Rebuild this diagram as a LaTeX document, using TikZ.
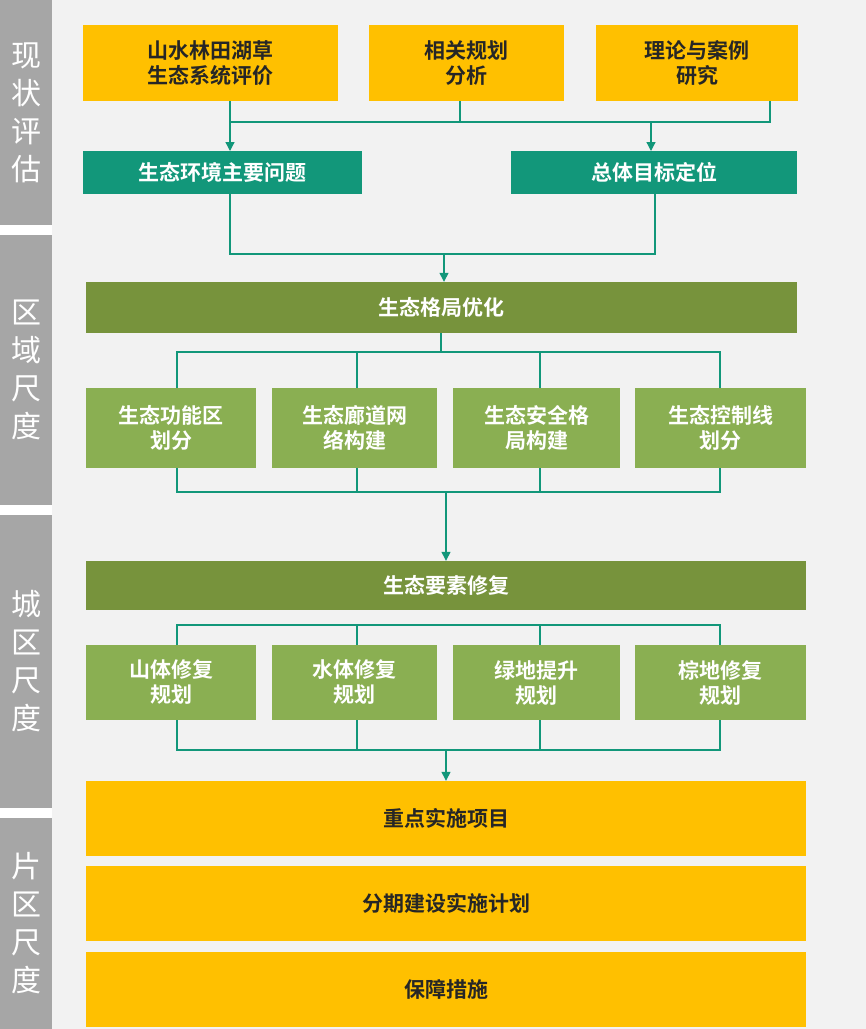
\documentclass[tikz,border=0pt]{standalone}
\usepackage{fontspec}
\setmainfont{Noto Sans CJK SC}[BoldFont={Noto Sans CJK SC Bold}]
\usetikzlibrary{positioning, arrows.meta}
\definecolor{yel}{HTML}{FFC000}
\definecolor{teal2}{HTML}{12977A}
\definecolor{olive2}{HTML}{77933C}
\definecolor{leaf}{HTML}{8AAF52}
\definecolor{bar}{HTML}{A6A6A6}
\definecolor{bg}{HTML}{F2F2F2}
\begin{document}
\begin{tikzpicture}[x=1pt, y=-1pt, >={Triangle[length=9pt,width=9pt]}]
    \tikzset{
        box/.style={inner sep=0pt, font=\bfseries\fontsize{21}{25}\selectfont, align=center},
        yelbox/.style={box, fill=yel, text=black!85},
        tealbox/.style={box, fill=teal2, text=white},
        olivebox/.style={box, fill=olive2, text=white},
        leafbox/.style={box, fill=leaf, text=white},
        barbox/.style={inner sep=0pt, fill=bar, text=white, font=\fontsize{30}{38}\selectfont, align=center},
        link/.style={draw=teal2, line width=1.3pt}
    }
    \useasboundingbox (0,0) rectangle (866,1029);
    \fill[bg] (52,0) rectangle (866,1029);

    % STAGES
    \node[barbox, minimum width=52pt, minimum height=225pt] (s1) at (26,112.5) {现\\状\\评\\估};
    \node[barbox, minimum width=52pt, minimum height=270pt] (s2) at (26,370) {区\\域\\尺\\度};
    \node[barbox, minimum width=52pt, minimum height=293pt] (s3) at (26,661.5) {城\\区\\尺\\度};
    \node[barbox, minimum width=52pt, minimum height=211pt] (s4) at (26,923.5) {片\\区\\尺\\度};

    % ASSESSMENT
    \node[yelbox, minimum width=255pt, minimum height=76pt] (eval) at (210.5,63) {山水林田湖草\\生态系统评价};
    \node[yelbox, minimum width=195pt, minimum height=76pt] (plan) at (466.5,63) {相关规划\\分析};
    \node[yelbox, minimum width=202pt, minimum height=76pt] (theory) at (697,63) {理论与案例\\研究};
    \node[tealbox, minimum width=279pt, minimum height=43pt] (issue) at (222.5,172.5) {生态环境主要问题};
    \node[tealbox, minimum width=286pt, minimum height=43pt] (goal) at (654,172.5) {总体目标定位};

    \draw[link] (230,101) -- (230,122) -- (770,122) -- (770,101);
    \draw[link] (460,101) -- (460,122);
    \draw[link, ->] (230,122) -- (230,151);
    \draw[link, ->] (651,122) -- (651,151);

    % REGIONAL
    \node[olivebox, minimum width=711pt, minimum height=51pt] (pattern) at (441.5,307.5) {生态格局优化};
    \draw[link] (230,194) -- (230,254) -- (655,254) -- (655,194);
    \draw[link, ->] (444,254) -- (pattern.north -| 444,0);

    \foreach \n/\x/\w/\t in {r1/171/170/{生态功能区\\划分}, r2/354.5/165/{生态廊道网\\络构建}, r3/536.5/167/{生态安全格\\局构建}, r4/720.5/171/{生态控制线\\划分}}
        \node[leafbox, minimum width=\w pt, minimum height=80pt] (\n) at (\x,428) {\t};
    \draw[link] (pattern.south -| 441,0) -- (441,352);
    \draw[link] (177,388) -- (177,352) -- (720,352) -- (720,388);
    \draw[link] (357,352) -- (357,388) (540,352) -- (540,388);
    \draw[link] (177,468) -- (177,492) -- (720,492) -- (720,468);
    \draw[link] (357,468) -- (357,492) (540,468) -- (540,492);

    % URBAN
    \node[olivebox, minimum width=720pt, minimum height=49pt] (element) at (446,585.5) {生态要素修复};
    \draw[link, ->] (446,492) -- (element.north -| 446,0);

    \foreach \n/\x/\w/\t in {u1/171/170/{山体修复\\规划}, u2/354.5/165/{水体修复\\规划}, u3/536.5/167/{绿地提升\\规划}, u4/720.5/171/{棕地修复\\规划}}
        \node[leafbox, minimum width=\w pt, minimum height=75pt] (\n) at (\x,682.5) {\t};
    \draw[link] (177,645) -- (177,625) -- (720,625) -- (720,645);
    \draw[link] (357,625) -- (357,645) (540,625) -- (540,645);
    \draw[link] (177,720) -- (177,750) -- (720,750) -- (720,720);
    \draw[link] (357,720) -- (357,750) (540,720) -- (540,750);

    % DISTRICT
    \node[yelbox, minimum width=720pt, minimum height=75pt] (project) at (446,818.5) {重点实施项目};
    \node[yelbox, minimum width=720pt, minimum height=75pt] (phase) at (446,903.5) {分期建设实施计划};
    \node[yelbox, minimum width=720pt, minimum height=75pt] (guard) at (446,989.5) {保障措施};
    \draw[link, ->] (446,750) -- (project.north -| 446,0);
\end{tikzpicture}
\end{document}
